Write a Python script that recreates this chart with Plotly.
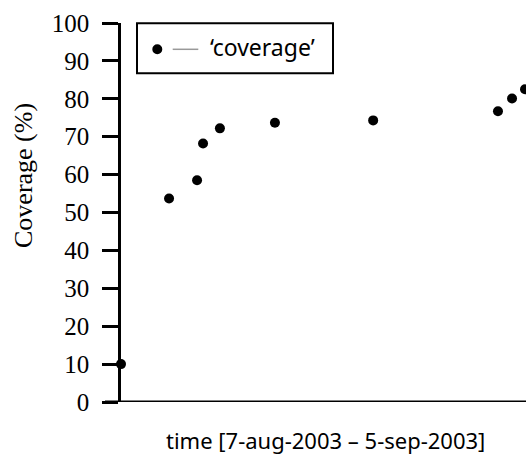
import plotly.graph_objects as go

# Data (days since 7-aug-2003, coverage in %)
days = [0.0, 3.45, 5.46, 5.89, 7.1, 11.05, 18.1, 27.06, 28.07, 29.0]
coverage = [10.0, 53.7, 58.5, 68.2, 72.2, 73.7, 74.3, 76.7, 80.1, 82.5]
y_ticks = [0, 10, 20, 30, 40, 50, 60, 70, 80, 90, 100]
series_name = "‘coverage’"
x_title = "time [7-aug-2003 – 5-sep-2003]"
y_title = "Coverage (%)"

W, H = 526, 454
L, R, T, B = 121, 1, 23, 52
pw = W - L - R
ph = H - T - B


def px_x(p):
    return (p - L) / pw


def px_y(p):
    return (H - B - p) / ph


fig = go.Figure()
fig.add_trace(go.Scatter(
    x=days, y=coverage, mode="markers",
    marker=dict(size=10, color="black"),
    cliponaxis=False, showlegend=False, name=series_name,
))

serif = "Liberation Serif"
sans = "Noto Sans"

fig.update_layout(
    width=W, height=H,
    margin=dict(l=L, r=R, t=T, b=B),
    plot_bgcolor="white", paper_bgcolor="white",
    showlegend=False,
    xaxis=dict(range=[0, 29], showline=False, showgrid=False, zeroline=False,
               showticklabels=False, ticks=""),
    yaxis=dict(range=[0, 100], tickvals=y_ticks, showgrid=False, zeroline=False,
               showline=True, linecolor="black", linewidth=2.5,
               ticks="outside", ticklen=16, tickwidth=2.5, tickcolor="black",
               ticklabelstandoff=8,
               tickfont=dict(family=serif, size=25, color="black")),
)

shapes = []
# x axis line extended left to the tick ends
shapes.append(dict(type="line", xref="paper", yref="y", x0=px_x(105), x1=px_x(530),
                   y0=0, y1=0, line=dict(color="black", width=3), layer="above"))
# legend box
shapes.append(dict(type="rect", xref="paper", yref="paper",
                   x0=px_x(137), x1=px_x(333), y0=px_y(73.3), y1=px_y(23.3),
                   line=dict(color="black", width=2), fillcolor="white", layer="above"))
# legend marker
shapes.append(dict(type="circle", xref="paper", yref="paper",
                   xsizemode="pixel", ysizemode="pixel",
                   xanchor=px_x(157.3), yanchor=px_y(49.3),
                   x0=-5, x1=5, y0=-5, y1=5,
                   fillcolor="black", line=dict(width=0), layer="above"))
# legend line
shapes.append(dict(type="line", xref="paper", yref="paper",
                   x0=px_x(172.7), x1=px_x(198.3), y0=px_y(49.3), y1=px_y(49.3),
                   line=dict(color="#999999", width=1.5), layer="above"))
fig.update_layout(shapes=shapes)

fig.add_annotation(text=series_name, xref="paper", yref="paper",
                   x=px_x(208), y=px_y(47), xanchor="left", yanchor="middle",
                   showarrow=False, font=dict(family=sans, size=23, color="black"))
fig.add_annotation(text=x_title, xref="paper", yref="paper",
                   x=px_x(325), y=px_y(440), xanchor="center", yanchor="middle",
                   showarrow=False, font=dict(family=sans, size=22, color="black"))
fig.add_annotation(text=y_title, xref="paper", yref="paper",
                   x=px_x(23), y=px_y(176), xanchor="center", yanchor="middle",
                   textangle=-90,
                   showarrow=False, font=dict(family=serif, size=26, color="black"))

fig.write_html("out.html", config={"displayModeBar": False},
               post_script="document.body.style.margin='0';")
